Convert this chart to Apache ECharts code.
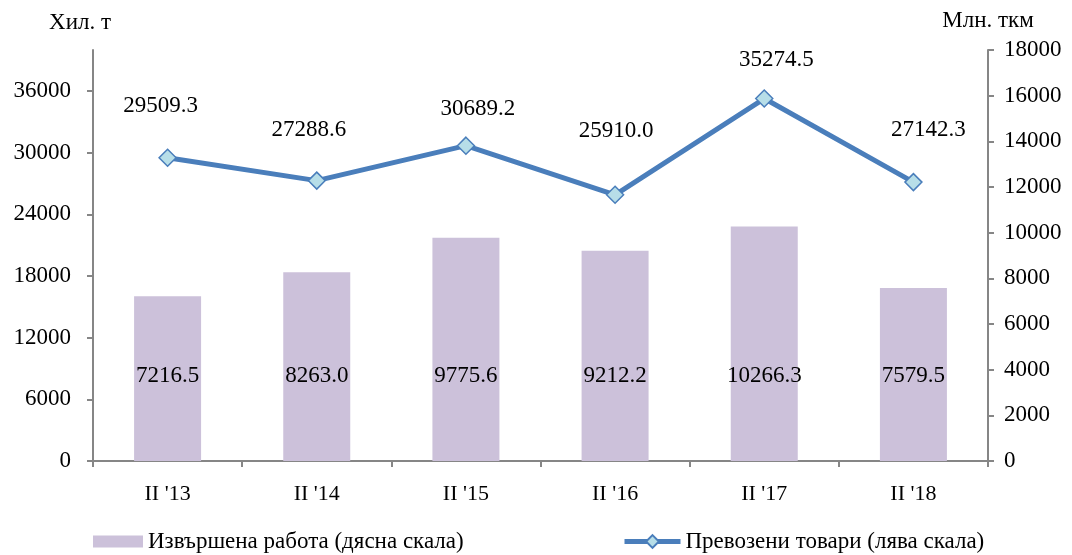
<!DOCTYPE html>
<html><head><meta charset="utf-8">
<script src="https://cdn.jsdelivr.net/npm/echarts@6/dist/echarts.min.js"></script>
<style>html,body{margin:0;padding:0;background:#fff}#c{width:1072px;height:555px}</style>
</head><body><div id="c"></div>
<script>
var categories = ["II '13", "II '14", "II '15", "II '16", "II '17", "II '18"];
var workValues = [7216.5, 8263.0, 9775.6, 9212.2, 10266.3, 7579.5];
var goodsValues = [29509.3, 27288.6, 30689.2, 25910.0, 35274.5, 27142.3];
var goodsLabelOffsets = [[-7, -31], [-8, -30], [12, -16], [1, -43], [12, -18], [15, -31]];
var barName = 'Извършена работа (дясна скала)';
var lineName = 'Превозени товари (лява скала)';

var font = 'Liberation Serif, Times New Roman, serif';
var axisColor = '#868686';
var fs = 23;
function plain(v) { return String(v); }
var chart = echarts.init(document.getElementById('c'));
chart.setOption({
  animation: false,
  textStyle: {fontFamily: font, color: '#000'},
  grid: {left: 93, right: 84, top: 50, bottom: 94, containLabel: false},
  legend: [
    {data: [{name: barName, icon: 'rect'}], left: 93, top: 530, padding: 0, itemWidth: 50, itemHeight: 12,
     textStyle: {fontFamily: font, fontSize: fs, color: '#000'}, itemGap: 5},
    {data: [lineName], left: 622, top: 530, padding: 0, itemWidth: 56, itemHeight: 16,
     lineStyle: {width: 5, color: '#4A7EBB'},
     textStyle: {fontFamily: font, fontSize: fs, color: '#000'}}
  ],
  xAxis: {
    type: 'category', data: categories,
    axisLine: {lineStyle: {color: axisColor, width: 2}},
    axisTick: {show: true, length: 6, lineStyle: {color: axisColor, width: 2}},
    axisLabel: {fontFamily: font, fontSize: 22, color: '#000', margin: 22}
  },
  yAxis: [
    {type: 'value', min: 0, max: 40000, interval: 6000, position: 'left',
     name: 'Хил. т', nameLocation: 'end', nameGap: 16,
     nameTextStyle: {fontFamily: font, fontSize: fs, color: '#000', align: 'center', padding: [0, 0, 0, -26]},
     splitLine: {show: false},
     axisLine: {show: true, lineStyle: {color: axisColor, width: 2}},
     axisTick: {show: true, length: 6, lineStyle: {color: axisColor, width: 2}},
     axisLabel: {fontFamily: font, fontSize: fs, color: '#000', margin: 22, showMaxLabel: false, formatter: plain}},
    {type: 'value', min: 0, max: 18000, interval: 2000, position: 'right',
     name: 'Млн. ткм', nameLocation: 'end', nameGap: 18,
     nameTextStyle: {fontFamily: font, fontSize: fs, color: '#000', align: 'center'},
     splitLine: {show: false},
     axisLine: {show: true, lineStyle: {color: axisColor, width: 2}},
     axisTick: {show: true, length: 6, lineStyle: {color: axisColor, width: 2}},
     axisLabel: {fontFamily: font, fontSize: fs, color: '#000', margin: 16, formatter: plain}}
  ],
  series: [
    {name: barName, type: 'bar', yAxisIndex: 1, data: workValues, barWidth: 67,
     itemStyle: {color: '#CCC1DA'},
     label: {show: true, position: 'insideBottom', distance: 74, fontFamily: font, fontSize: fs, color: '#000',
       formatter: function (p) { return p.value.toFixed(1); }}},
    {name: lineName, type: 'line', yAxisIndex: 0,
     data: goodsValues.map(function (v, i) {
       return {value: v, label: {offset: goodsLabelOffsets[i]}};
     }),
     symbol: 'diamond', symbolSize: 17,
     lineStyle: {color: '#4A7EBB', width: 5},
     itemStyle: {color: '#B7DEE8', borderColor: '#4A7EBB', borderWidth: 1.5},
     label: {show: true, position: 'top', distance: 0, fontFamily: font, fontSize: fs, color: '#000',
       formatter: function (p) { return p.value.toFixed(1); }}}
  ]
});
</script></body></html>
